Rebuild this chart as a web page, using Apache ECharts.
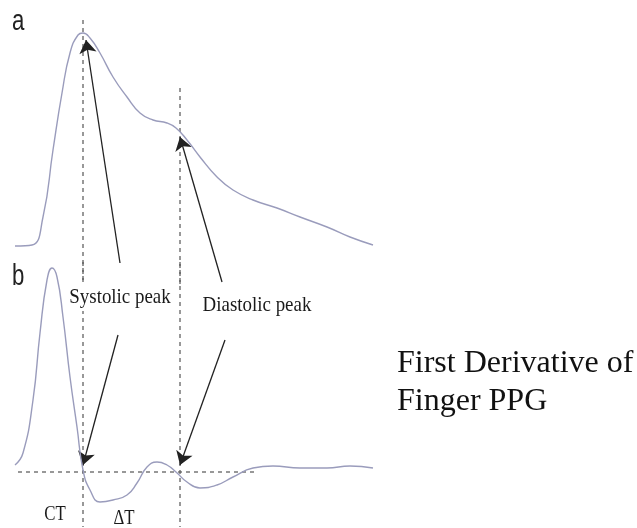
<!DOCTYPE html>
<html>
<head>
<meta charset="utf-8">
<script src="https://cdn.jsdelivr.net/npm/echarts@6/dist/echarts.min.js"></script>
<style>html,body{margin:0;padding:0;background:#fff}#c{width:637px;height:528px}</style>
</head>
<body>
<div id="c"></div>
<script>
// Panel a: finger PPG waveform [time, amplitude]
var ppgTime = [1,18,29,39,48,56,64,69,76,86,99,113,126,139,153,162,173,186,203,219,239,263,286,313,336,359];
var ppgValue = [0,1,29,96,153,193,211,213,208,193,169,149,133,126,123,118,106,89,69,56,46,38,29,19,9,1];
// Panel b: first derivative of finger PPG [time, amplitude]
var derTime = [1,9,19,26,33,38,43,49,56,63,69,76,86,99,113,123,133,143,153,162,173,186,203,219,239,259,286,313,336,359];
var derValue = [7,19,72,139,192,204,195,155,95,45,2,-18,-30,-28,-23,-11,5,10,7,0,-10,-16,-13,-5,4,6,4,4,6,4];
// Markers
var systolicTime = 69, diastolicTime = 166;
var baselineRange = [4, 243];
// Arrows [from, to] in each panel's data units
var arrowsA = [[[106,-17],[72,206]], [[208,-36],[166,109]]];
var arrowsB = [[[104,137],[69,7]], [[211,132],[166,7]]];
var labels = ['Systolic peak','Diastolic peak','CT','\u0394T'];
var panelLabels = ['a','b'];
var sideText = 'First Derivative of\nFinger PPG';

function zip(t, v){ return t.map(function(x,i){ return [x, v[i]]; }); }

var chart = echarts.init(document.getElementById('c'));
var curveColor = '#9a9cbc';
var dashStyle = {color:'#555', width:1.2, type:[4,4]};
function lineSeries(idx, data, style, smooth){
  return {type:'line', xAxisIndex:idx, yAxisIndex:idx, data:data, smooth:smooth, showSymbol:false, symbol:'none',
    lineStyle:style, silent:true, animation:false, clip:false, z: style.type ? 1 : 2};
}
function arrowSeries(idx, arr){
  return {type:'lines', coordinateSystem:'cartesian2d', xAxisIndex:idx, yAxisIndex:idx,
    symbol:['none','arrow'], symbolSize:[0,13], animation:false, silent:true,
    lineStyle:{color:'#222', width:1.3, curveness:0, opacity:1},
    data: arr.map(function(a){ return {coords:a}; })};
}
var serif = '"Liberation Serif", "Times New Roman", serif';
var sans = '"Liberation Sans", Arial, sans-serif';
function txt(x, y, s, size, sx, extra){
  var st = {text:s, font:size+'px '+serif, fill:'#1a1a1a', align:'center', verticalAlign:'top'};
  if (extra) for (var k in extra) st[k] = extra[k];
  return {type:'text', x:x, y:y, scaleX:sx, z:10, style:st};
}
var option = {
  backgroundColor:'#fff',
  animation:false,
  grid:[
    {left:14, width:360, top:26, height:260, show:false},
    {left:14, width:360, top:262, height:260, show:false}
  ],
  xAxis:[
    {gridIndex:0, type:'value', min:0, max:360, show:false},
    {gridIndex:1, type:'value', min:0, max:360, show:false}
  ],
  yAxis:[
    {gridIndex:0, type:'value', min:-40, max:220, show:false},
    {gridIndex:1, type:'value', min:-50, max:210, show:false}
  ],
  series:[
    lineSeries(0, zip(ppgTime, ppgValue), {color:curveColor, width:1.4}, true),
    lineSeries(1, zip(derTime, derValue), {color:curveColor, width:1.4}, true),
    lineSeries(0, [[systolicTime,226],[systolicTime,-40]], dashStyle, false),
    lineSeries(0, [[diastolicTime,158],[diastolicTime,-40]], dashStyle, false),
    lineSeries(1, [[systolicTime,210],[systolicTime,-55]], dashStyle, false),
    lineSeries(1, [[diastolicTime,210],[diastolicTime,-55]], dashStyle, false),
    lineSeries(1, [[baselineRange[0],0],[baselineRange[1],0]], dashStyle, false),
    arrowSeries(0, arrowsA),
    arrowSeries(1, arrowsB)
  ],
  graphic:[
    {type:'text', x:12, y:7, scaleX:0.74, style:{text:panelLabels[0], font:'30px '+sans, fill:'#222', verticalAlign:'top'}},
    {type:'text', x:12, y:262, scaleX:0.74, style:{text:panelLabels[1], font:'30px '+sans, fill:'#222', verticalAlign:'top'}},
    txt(120, 284, labels[0], 22, 0.86, {backgroundColor:'#fff', padding:[2,2,3,2]}),
    txt(257, 292, labels[1], 22, 0.86, {backgroundColor:'#fff', padding:[2,2,3,2]}),
    txt(55, 505, labels[2], 20, 0.84),
    txt(124, 509, labels[3], 20, 0.84),
    {type:'text', x:397, y:345, style:{text:sideText, font:'32px '+serif, lineHeight:38, fill:'#111', verticalAlign:'top'}}
  ]
};
chart.setOption(option);
</script>
</body>
</html>
